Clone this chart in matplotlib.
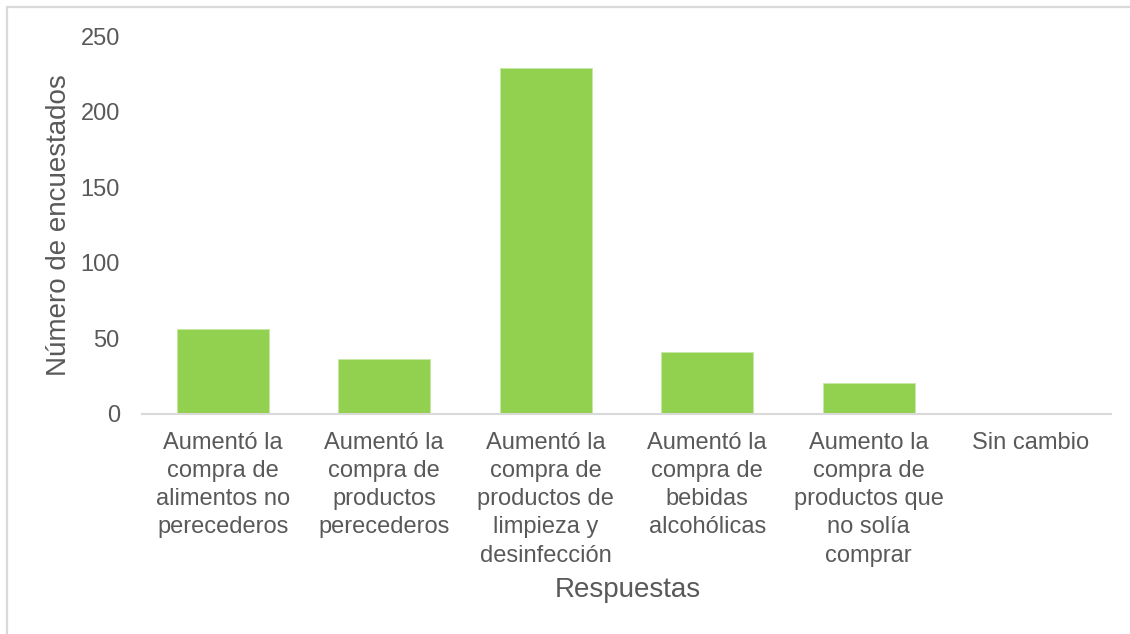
import matplotlib
matplotlib.use("Agg")
import matplotlib.pyplot as plt
from matplotlib.patches import Rectangle

# Survey responses: change in purchasing behaviour
categories = [
    "Aumentó la\ncompra de\nalimentos no\nperecederos",
    "Aumentó la\ncompra de\nproductos\nperecederos",
    "Aumentó la\ncompra de\nproductos de\nlimpieza y\ndesinfección",
    "Aumentó la\ncompra de\nbebidas\nalcohólicas",
    "Aumento la\ncompra de\nproductos que\nno solía\ncomprar",
    "Sin cambio",
]
respondents = [56, 36, 229, 41, 20, 0]
y_ticks = [0, 50, 100, 150, 200, 250]

text_color = "#595959"
bar_color = "#92D050"
line_color = "#D9D9D9"

plt.rcParams["font.family"] = ["Liberation Sans", "DejaVu Sans"]

W, H, DPI = 1130, 634, 100
fig = plt.figure(figsize=(W / DPI, H / DPI), dpi=DPI)
fig.patch.set_facecolor("white")

# Outer chart frame (open at right and bottom edges)
fig.add_artist(Rectangle((7 / W, -0.05), 1.2, 1 - 7 / H + 0.05,
                         transform=fig.transFigure, fill=False,
                         edgecolor=line_color, linewidth=1.6))

ax = fig.add_axes([142 / W, 1 - 413.5 / H, (1111 - 142) / W, (413.5 - 36) / H])
x = list(range(len(categories)))
ax.bar(x, respondents, width=0.57, color=bar_color, edgecolor="#C6E8A6",
       linewidth=0.6, zorder=2)

ax.set_xlim(-0.5, len(categories) - 0.5)
ax.set_ylim(0, 250)
ax.set_yticks(y_ticks)
ax.set_yticklabels([str(t) for t in y_ticks])
ax.set_xticks(x)
ax.set_xticklabels(categories, linespacing=1.37)

for s in ["top", "right", "left"]:
    ax.spines[s].set_visible(False)
ax.spines["bottom"].set_color(line_color)
ax.spines["bottom"].set_linewidth(1.5)
ax.spines["bottom"].set_zorder(3)

ax.tick_params(axis="y", length=0, pad=16, labelsize=17, labelcolor=text_color)
ax.tick_params(axis="x", length=0, pad=13, labelsize=17, labelcolor=text_color)

ax.set_ylabel("Número de encuestados", fontsize=20, color=text_color)
ax.yaxis.label.set_verticalalignment("center")
ax.yaxis.set_label_coords(59 / W, 1 - 225 / H, transform=fig.transFigure)

ax.set_xlabel("Respuestas", fontsize=20, color=text_color)
ax.xaxis.label.set_verticalalignment("center")
ax.xaxis.set_label_coords(628 / W, 1 - 590 / H, transform=fig.transFigure)

fig.savefig("out.png", dpi=DPI, facecolor="white")
